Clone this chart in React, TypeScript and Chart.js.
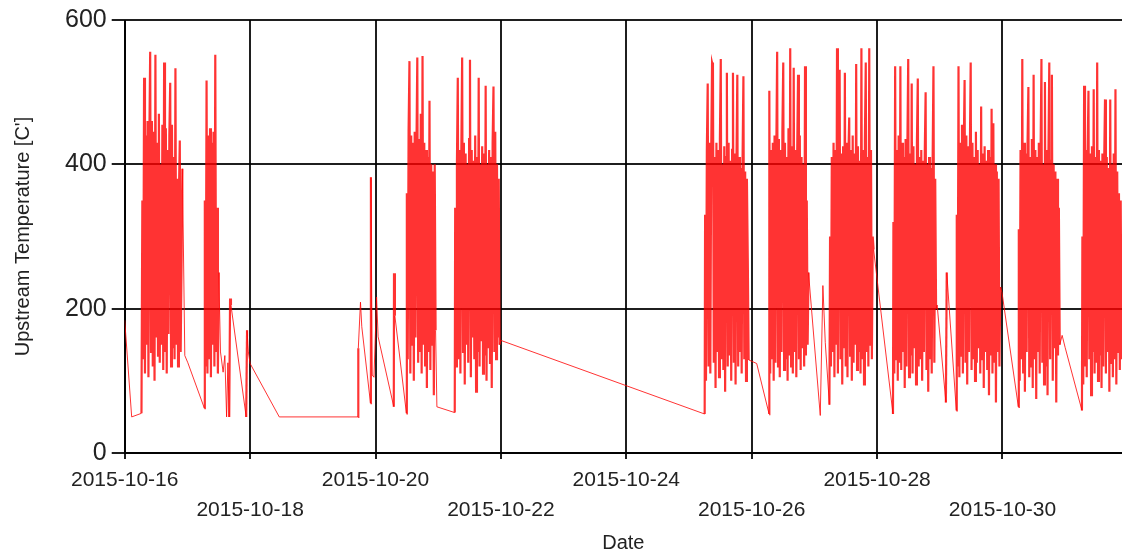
import React, { useEffect, useRef } from "react";
import { Chart, registerables } from "chart.js";

Chart.register(...registerables);

// ---- Data ----
const xMin = "2015-10-16T00:00";
const xMax = "2015-10-31T21:45";
const xTickDates = ["2015-10-16", "2015-10-18", "2015-10-20", "2015-10-22", "2015-10-24", "2015-10-26", "2015-10-28", "2015-10-30"];
const yTicks = [0, 200, 400, 600];

// isolated readings between the operating periods
const sparseTimes = [
  "2015-10-16T00:00", "2015-10-16T02:40", "2015-10-16T06:25",
  "2015-10-16T23:00", "2015-10-17T00:10", "2015-10-17T06:30",
  "2015-10-17T12:40", "2015-10-17T13:40", "2015-10-17T14:20", "2015-10-17T15:00", "2015-10-17T15:30",
  "2015-10-17T16:00", "2015-10-17T16:20", "2015-10-17T16:40", "2015-10-17T22:30", "2015-10-17T22:50",
  "2015-10-17T23:20", "2015-10-18T00:00", "2015-10-18T11:10", "2015-10-19T17:20", "2015-10-19T17:25",
  "2015-10-19T18:15", "2015-10-19T18:45", "2015-10-19T22:05", "2015-10-19T22:15", "2015-10-19T22:45",
  "2015-10-19T23:25", "2015-10-20T00:25", "2015-10-20T01:00", "2015-10-20T07:00", "2015-10-20T07:05",
  "2015-10-20T07:25", "2015-10-20T11:50",
  "2015-10-20T23:30", "2015-10-21T06:20",
  "2015-10-22T00:00", "2015-10-25T06:00",
  "2015-10-25T22:50", "2015-10-26T01:55", "2015-10-26T06:40",
  "2015-10-27T02:15", "2015-10-27T03:15", "2015-10-27T04:10", "2015-10-27T05:45",
  "2015-10-27T22:40", "2015-10-28T06:05",
  "2015-10-28T23:00", "2015-10-29T02:20", "2015-10-29T02:40", "2015-10-29T06:20",
  "2015-10-29T23:50", "2015-10-30T06:05",
  "2015-10-30T22:50", "2015-10-31T00:00", "2015-10-31T06:25",
];
const sparseValues = [
  184, 50, 55,
  135, 125, 62,
  140, 112, 135, 50, 125,
  50, 214, 205, 50, 170,
  140, 124, 50, 50, 145,
  209, 175, 69, 382, 108,
  105, 216, 161, 64, 249,
  190, 55,
  64, 56,
  156, 54,
  129, 124, 54,
  52, 232, 153, 67,
  282, 54,
  205, 70, 250, 59,
  222, 64,
  163, 146, 59,
];

// operating periods, sampled every bandStepMinutes from their start
const bandStepMinutes = 20;
const bandStarts = [
  "2015-10-16T06:45", "2015-10-17T06:40", "2015-10-20T12:00", "2015-10-21T06:30",
  "2015-10-25T06:10", "2015-10-26T06:45", "2015-10-27T06:00", "2015-10-28T06:15",
  "2015-10-29T06:30", "2015-10-30T06:15", "2015-10-31T06:35",
];
const band16 = [350, 130, 520, 110, 440, 150, 460, 105, 430, 556, 140, 460, 120, 445, 100, 552, 160, 430, 135, 470, 125, 400, 150, 455, 115, 541, 140, 450, 110, 420, 165, 440, 513, 120, 455, 145, 410, 130, 533, 150, 380, 120, 360, 433, 140, 260, 394];
const band17 = [350, 120, 516, 110, 440, 130, 450, 105, 430, 150, 445, 120, 552, 140, 340, 110, 250];
const band20 = [360, 130, 447, 543, 110, 440, 150, 430, 100, 445, 160, 420, 548, 125, 435, 140, 470, 110, 550, 150, 430, 120, 420, 90, 410, 140, 488, 115, 400, 150, 390, 80, 400, 170];
const band21 = [340, 120, 400, 520, 130, 420, 110, 410, 548, 140, 430, 95, 415, 150, 400, 125, 435, 545, 105, 420, 160, 405, 130, 440, 85, 410, 140, 520, 120, 400, 155, 425, 110, 415, 135, 509, 100, 400, 145, 420, 125, 410, 90, 430, 508, 140, 445, 130, 400, 160, 380, 150];
const band25 = [330, 100, 420, 512, 120, 430, 110, 415, 541, 536, 125, 410, 90, 430, 140, 420, 105, 435, 546, 130, 400, 115, 425, 85, 410, 527, 120, 430, 135, 405, 100, 420, 527, 125, 415, 95, 400, 524, 120, 410, 140, 395, 110, 405, 522, 130, 390, 100, 380, 270];
const band26 = [502, 110, 420, 130, 430, 100, 440, 125, 415, 556, 120, 435, 105, 420, 140, 445, 541, 115, 430, 130, 410, 100, 450, 135, 561, 120, 425, 110, 534, 140, 420, 105, 415, 524, 130, 440, 115, 410, 145, 400, 120, 536, 135, 350, 150, 250];
const band27 = [300, 120, 410, 140, 430, 105, 420, 150, 561, 110, 440, 531, 130, 415, 95, 425, 145, 527, 120, 430, 105, 410, 465, 135, 420, 100, 440, 125, 415, 150, 539, 115, 425, 140, 405, 110, 561, 130, 420, 95, 435, 541, 140, 410, 120, 561, 150, 420, 130, 300];
const band28 = [320, 110, 536, 130, 420, 100, 440, 125, 536, 115, 430, 140, 410, 90, 435, 120, 420, 546, 105, 415, 135, 512, 110, 425, 145, 400, 95, 430, 519, 120, 410, 130, 420, 100, 405, 140, 415, 500, 115, 400, 85, 410, 130, 395, 110, 400, 536, 125, 380, 200];
const band29 = [330, 120, 536, 105, 430, 135, 455, 110, 420, 517, 125, 440, 95, 425, 140, 415, 541, 115, 430, 130, 410, 100, 445, 125, 420, 145, 400, 110, 480, 130, 415, 90, 425, 140, 405, 115, 420, 80, 410, 135, 477, 110, 457, 125, 400, 70, 390, 140, 380, 120, 230];
const band30 = [310, 100, 420, 130, 546, 110, 430, 85, 415, 140, 425, 507, 105, 410, 120, 435, 90, 524, 130, 420, 75, 410, 140, 430, 110, 415, 546, 125, 400, 95, 514, 120, 420, 80, 410, 541, 130, 405, 524, 100, 400, 145, 390, 70, 380, 135, 340, 150];
const band31 = [300, 95, 509, 120, 420, 105, 410, 502, 130, 415, 80, 425, 140, 504, 110, 410, 125, 541, 100, 420, 135, 405, 90, 415, 120, 400, 490, 110, 410, 140, 395, 85, 490, 125, 400, 105, 415, 130, 504, 95, 390, 140, 360, 115, 350, 130];
const bandValues = [band16, band17, band20, band21, band25, band26, band27, band28, band29, band30, band31];

const ts = (s: string) => Date.parse(s.length === 10 ? s + "T00:00:00Z" : s + ":00Z");

function buildPoints() {
  const pts: { x: number; y: number }[] = [];
  sparseTimes.forEach((t, i) => pts.push({ x: ts(t), y: sparseValues[i] }));
  bandStarts.forEach((s, b) => {
    const t0 = ts(s);
    bandValues[b].forEach((v, i) => pts.push({ x: t0 + i * bandStepMinutes * 60000, y: v }));
  });
  pts.sort((a, b) => a.x - b.x);
  return pts;
}

const FONT = "'Liberation Sans', Arial, sans-serif";
const TEXT = "#222222";
const GRID = "rgba(0,0,0,0.88)";
const BAND_GAP_MS = 21 * 60000;

export default function App() {
  const ref = useRef<HTMLCanvasElement | null>(null);

  useEffect(() => {
    if (!ref.current) return;
    Chart.defaults.font.family = FONT;
    const chart = new Chart(ref.current, {
      type: "line",
      data: {
        datasets: [
          {
            data: buildPoints(),
            borderColor: "rgba(255,0,0,0.8)",
            borderWidth: 1,
            pointRadius: 0,
            tension: 0,
            fill: false,
            segment: {
              borderWidth: (ctx: any) => (ctx.p1.parsed.x - ctx.p0.parsed.x <= BAND_GAP_MS ? 2.2 : 1),
            },
          },
        ],
      },
      options: {
        responsive: false,
        animation: false,
        layout: { padding: { top: 19, left: 0, right: 0, bottom: 0 } },
        plugins: { legend: { display: false }, tooltip: { enabled: false } },
        scales: {
          x: {
            type: "linear",
            min: ts(xMin),
            max: ts(xMax),
            z: 1,
            afterBuildTicks: (scale: any) => {
              scale.ticks = xTickDates.map((d) => ({ value: ts(d) }));
            },
            ticks: {
              autoSkip: false,
              maxRotation: 0,
              minRotation: 0,
              padding: 6,
              color: TEXT,
              font: { size: 21, lineHeight: 30 / 21 },
              callback: (_v: any, index: number) => {
                const lbl = xTickDates[index];
                return index % 2 === 0 ? lbl : ["", lbl];
              },
            },
            grid: { color: GRID, lineWidth: 2, tickLength: 6, drawTicks: true },
            border: { color: GRID, width: 2 },
            title: { display: true, text: "Date", color: TEXT, font: { size: 20 }, padding: { top: 0, bottom: 4 } },
          },
          y: {
            min: 0,
            max: 600,
            z: 1,
            afterBuildTicks: (scale: any) => {
              scale.ticks = yTicks.map((v) => ({ value: v }));
            },
            ticks: { padding: 5, color: TEXT, font: { size: 25 } },
            grid: { color: GRID, lineWidth: 2, tickLength: 13, drawTicks: true },
            border: { color: GRID, width: 2 },
            title: {
              display: true,
              text: "Upstream Temperature [C']",
              color: TEXT,
              font: { size: 20 },
              padding: { top: 11, bottom: 25 },
            },
          },
        },
      },
    } as any);
    return () => chart.destroy();
  }, []);

  return (
    <div style={{ position: "fixed", left: 0, top: 0, width: 1122, height: 559, background: "#fff" }}>
      <canvas ref={ref} width={1122} height={559} style={{ display: "block", width: 1122, height: 559 }} />
    </div>
  );
}
